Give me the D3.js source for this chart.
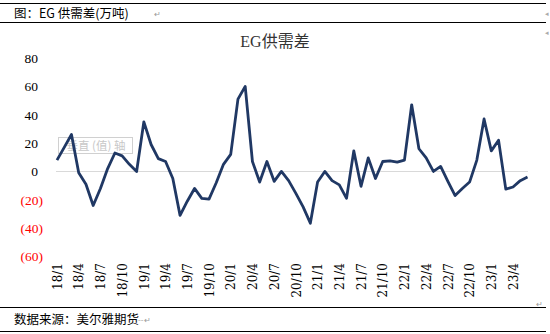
<!DOCTYPE html>
<html><head><meta charset="utf-8">
<script src="https://cdn.jsdelivr.net/npm/d3@7"></script>
<style>
html,body{margin:0;padding:0;background:#fff;}
svg{display:block;}
</style></head>
<body>
<svg id="chart" width="550" height="334"></svg>
<script>
const months = [];
for (let y = 18; y <= 23; y++) {
  for (let m = 1; m <= 12; m++) {
    if (y === 23 && m > 6) break;
    months.push(y + "/" + m);
  }
}
const values = [
  8, 17, 26, -1, -9, -24, -12, 2, 13, 11, 5, 0,
  35, 19, 9, 7, -5, -31, -21, -12, -19, -19.5, -8, 5,
  12, 51, 60, 7, -7.5, 7, -7, 0, -6.5, -15.5, -25, -36.5,
  -7.5, 0, -6.5, -9.5, -19, 14.5, -10.5, 9.5, -5, 7, 7.5, 6.5,
  8, 47, 16, 9.5, 0, 3.5, -7, -17, -12, -7.5, 8, 37,
  14.5, 22, -12.5, -11, -6.5, -4
];
const tickLabels = ["18/1","18/4","18/7","18/10","19/1","19/4","19/7","19/10","20/1","20/4","20/7","20/10","21/1","21/4","21/7","21/10","22/1","22/4","22/7","22/10","23/1","23/4"];
const yTicks = [80, 60, 40, 20, 0, -20, -40, -60];

const svg = d3.select("#chart");
const cjk = "'Noto Sans CJK SC', 'Noto Sans', sans-serif";
const serif = "'Liberation Serif', 'DejaVu Serif', serif";

// header lines and text
svg.append("line").attr("x1", 0).attr("x2", 546).attr("y1", 3.5).attr("y2", 3.5).attr("stroke", "#000").attr("stroke-width", 1);
svg.append("line").attr("x1", 0).attr("x2", 546).attr("y1", 22.5).attr("y2", 22.5).attr("stroke", "#000").attr("stroke-width", 1);
svg.append("text").attr("x", 14).attr("y", 18).attr("font-family", cjk).attr("font-size", 12.5).attr("fill", "#000").text("图：EG 供需差(万吨)");
svg.append("text").attr("x", 154).attr("y", 17).attr("font-family", cjk).attr("font-size", 8).attr("fill", "#999").text("↵");

// footer
svg.append("line").attr("x1", 0).attr("x2", 546).attr("y1", 307.5).attr("y2", 307.5).attr("stroke", "#000").attr("stroke-width", 1);
svg.append("line").attr("x1", 0).attr("x2", 546).attr("y1", 331.5).attr("y2", 331.5).attr("stroke", "#000").attr("stroke-width", 1);
svg.append("text").attr("x", 14).attr("y", 324).attr("font-family", cjk).attr("font-size", 12.5).attr("fill", "#000").text("数据来源：美尔雅期货");
svg.append("text").attr("x", 138).attr("y", 323).attr("font-family", cjk).attr("font-size", 8).attr("fill", "#999").text("--↵");

// chart title
svg.append("text").attr("x", 275).attr("y", 47).attr("text-anchor", "middle").attr("font-family", serif + ", " + cjk).attr("font-size", 16).attr("fill", "#333").text("EG供需差");

const x = d3.scalePoint().domain(months).range([57, 527.5]);
const y = d3.scaleLinear().domain([-60, 80]).range([256.5, 58]);

// zero gridline
svg.append("line").attr("x1", 56).attr("x2", 528).attr("y1", Math.round(y(0)) + 0.5).attr("y2", Math.round(y(0)) + 0.5).attr("stroke", "#d9d9d9").attr("stroke-width", 1);

// y axis labels
const yAxis = d3.axisLeft(y).tickValues(yTicks).tickSize(0).tickPadding(0)
  .tickFormat(d => d < 0 ? "(" + Math.abs(d) + ")" : String(d));
const gy = svg.append("g").attr("transform", "translate(38,0)").call(yAxis);
gy.select(".domain").remove();
gy.selectAll("text").attr("font-family", serif).attr("font-size", 13.5)
  .attr("fill", d => d < 0 ? "#ff0000" : "#000")
  .attr("dx", d => d < 0 ? 5 : 0);

// x axis labels
const xAxis = d3.axisBottom(x).tickValues(tickLabels).tickSize(0).tickPadding(0);
const gx = svg.append("g").attr("transform", "translate(0,263)").call(xAxis);
gx.select(".domain").remove();
gx.selectAll("text").attr("font-family", "'DejaVu Serif', serif").attr("font-size", 12).attr("fill", "#000")
  .attr("transform", "rotate(-90)").attr("text-anchor", "end").attr("dy", "0.35em").attr("x", 0).attr("y", 0);

// watermark-like tooltip box
const wm = svg.append("g");
wm.append("rect").attr("x", 58.5).attr("y", 137.5).attr("width", 74).attr("height", 16).attr("fill", "none").attr("stroke", "#d0d0d0");
wm.append("text").attr("x", 96).attr("y", 150).attr("text-anchor", "middle").attr("font-family", cjk).attr("font-size", 11.5).attr("fill", "#c8c8c8").text("垂直 (值) 轴");

// line
const line = d3.line().x((d, i) => x(months[i])).y(d => y(d));
svg.append("path").datum(values).attr("d", line).attr("fill", "none")
  .attr("stroke", "#203864").attr("stroke-width", 2.8).attr("stroke-linejoin", "round");

// small paragraph marks on the right
svg.append("text").attr("x", 545).attr("y", 16).attr("font-size", 7).attr("fill", "#aaa").text("◂");
svg.append("text").attr("x", 545).attr("y", 35).attr("font-size", 7).attr("fill", "#aaa").text("◂");
svg.append("text").attr("x", 536).attr("y", 307).attr("font-family", cjk).attr("font-size", 8).attr("fill", "#999").text("↵");
</script>
</body></html>
